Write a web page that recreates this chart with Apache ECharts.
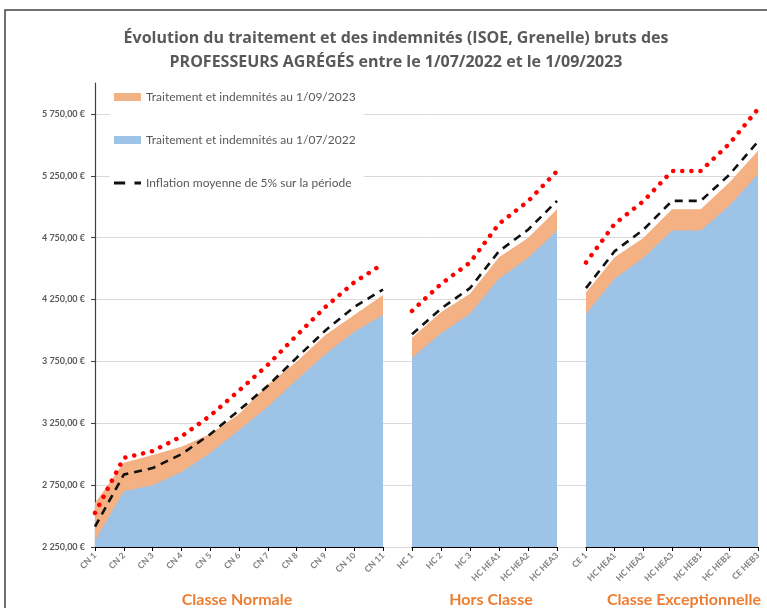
<!DOCTYPE html>
<html>
<head>
<meta charset="utf-8">
<script src="https://cdn.jsdelivr.net/npm/echarts@6/dist/echarts.min.js"></script>
<style>
  html, body { margin: 0; padding: 0; background: #fff; }
  #chart { width: 767px; height: 608px; }
</style>
</head>
<body>
<div id="chart"></div>
<script>
// categories of each panel
const catNormale = ['CN 1', 'CN 2', 'CN 3', 'CN 4', 'CN 5', 'CN 6', 'CN 7', 'CN 8', 'CN 9', 'CN 10', 'CN 11']
const catHors = ['HC 1', 'HC 2', 'HC 3', 'HC HEA1', 'HC HEA2', 'HC HEA3']
const catExcep = ['CE 1', 'HC HEA1', 'HC HEA2', 'HC HEA3', 'HC HEB1', 'HC HEB2', 'CE HEB3']

// traitement + indemnités au 1/07/2022
const jul2022Normale = [2300, 2700, 2750, 2857, 3010, 3195, 3384, 3599, 3809, 3990, 4125]
const jul2022Hors = [3780, 3978, 4135, 4420, 4585, 4807]
const jul2022Excep = [4135, 4420, 4585, 4807, 4807, 5008, 5264]

// traitement + indemnités au 1/09/2023
const sep2023Normale = [2605, 2930, 2993, 3060, 3163, 3325, 3562, 3747, 3963, 4125, 4286]
const sep2023Hors = [3941, 4148, 4296, 4591, 4748, 4980]
const sep2023Excep = [4306, 4591, 4748, 4980, 4980, 5196, 5452]

// inflation moyenne 5 %
const infl5Normale = [2415, 2835, 2888, 3000, 3161, 3355, 3553, 3779, 4000, 4190, 4331]
const infl5Hors = [3969, 4177, 4342, 4641, 4814, 5047]
const infl5Excep = [4342, 4641, 4814, 5047, 5047, 5258, 5527]

// courbe pointillée rouge
const redNormale = [2525, 2970, 3025, 3143, 3311, 3514, 3722, 3959, 4190, 4389, 4538]
const redHors = [4158, 4376, 4549, 4862, 5044, 5288]
const redExcep = [4549, 4862, 5044, 5288, 5288, 5509, 5790]

const panelTitles = ['Classe Normale', 'Hors Classe', 'Classe Exceptionnelle']

const yMin = 2250
const yMax = 6000
const yStep = 500

const NAME_SEP = 'Traitement et indemnités au 1/09/2023'
const NAME_JUL = 'Traitement et indemnités au 1/07/2022'
const NAME_INF = 'Inflation moyenne de 5% sur la période'

const BLUE = '#9DC3E6'
const ORANGE = '#F4B183'
const GREY = '#595959'
const FONT = 'Lato, "Open Sans", sans-serif'

const chart = echarts.init(document.getElementById('chart'))

function euro(v) {
  const s = String(Math.round(v)).replace(/\B(?=(\d{3})+(?!\d))/g, ' ')
  return s + ',00 €'
}

const panels = [
  { cats: catNormale, jul: jul2022Normale, sep: sep2023Normale, inf: infl5Normale, red: redNormale, left: 95, width: 288 },
  { cats: catHors, jul: jul2022Hors, sep: sep2023Hors, inf: infl5Hors, red: redHors, left: 412, width: 145 },
  { cats: catExcep, jul: jul2022Excep, sep: sep2023Excep, inf: infl5Excep, red: redExcep, left: 586, width: 172 }
]

const gridTop = 83
const gridHeight = 464

const grids = [{ left: 95, width: 663, top: gridTop, height: gridHeight }]
const xAxes = [{ gridIndex: 0, type: 'category', show: false, data: ['a'] }]
const yAxes = [{
  gridIndex: 0, type: 'value', min: yMin, max: yMax, interval: yStep,
  axisLine: { show: false }, axisTick: { show: false }, axisLabel: { show: false },
  splitLine: { show: true, showMaxLine: false, lineStyle: { color: '#D9D9D9', width: 1 } }
}]
const series = []

panels.forEach((p, i) => {
  const gi = i + 1
  grids.push({ left: p.left, width: p.width, top: gridTop, height: gridHeight })
  xAxes.push({
    gridIndex: gi,
    type: 'category',
    boundaryGap: false,
    data: p.cats,
    axisLine: { lineStyle: { color: '#000', width: 1.2 } },
    axisTick: { show: true, length: 4, alignWithLabel: true, lineStyle: { color: '#000' } },
    axisLabel: {
      interval: 0, rotate: 45, margin: 7,
      fontSize: 8.5, fontWeight: 'bold', color: '#7F7F7F', fontFamily: FONT
    }
  })
  yAxes.push({
    gridIndex: gi, type: 'value', min: yMin, max: yMax, interval: yStep,
    show: i === 0,
    axisLine: { show: true, lineStyle: { color: '#404040', width: 1.2 } },
    axisTick: { show: true, length: 4, lineStyle: { color: '#404040' } },
    axisLabel: {
      showMaxLabel: false, margin: 10,
      fontSize: 9, fontWeight: 'bold', color: GREY, fontFamily: FONT,
      formatter: v => (v === yMax ? '' : euro(v))
    },
    splitLine: { show: false }
  })
  series.push({
    name: NAME_SEP, type: 'line', xAxisIndex: gi, yAxisIndex: gi,
    data: p.sep, showSymbol: false, symbol: 'none', z: 1,
    itemStyle: { color: ORANGE },
    lineStyle: { width: 0 },
    areaStyle: { color: ORANGE, opacity: 1, origin: 'start' }
  })
  series.push({
    name: NAME_JUL, type: 'line', xAxisIndex: gi, yAxisIndex: gi,
    data: p.jul, showSymbol: false, symbol: 'none', z: 2,
    itemStyle: { color: BLUE },
    lineStyle: { width: 0 },
    areaStyle: { color: BLUE, opacity: 1, origin: 'start' }
  })
  series.push({
    name: NAME_INF, type: 'line', xAxisIndex: gi, yAxisIndex: gi,
    data: p.inf, showSymbol: false, symbol: 'none', z: 3,
    itemStyle: { color: '#111' },
    lineStyle: { color: '#111', width: 2.6, type: [8, 6] }
  })
  series.push({
    name: 'Inflation 10%', type: 'line', xAxisIndex: gi, yAxisIndex: gi,
    data: p.red, showSymbol: false, symbol: 'none', z: 4,
    itemStyle: { color: '#FF0000' },
    lineStyle: { color: '#FF0000', width: 4.5, type: [0.1, 9], cap: 'round' }
  })
})

const panelLabelX = [237, 491, 684]

const option = {
  backgroundColor: '#fff',
  animation: false,
  title: {
    text: 'Évolution du traitement et des indemnités (ISOE, Grenelle) bruts des\nPROFESSEURS AGRÉGÉS entre le 1/07/2022 et le 1/09/2023',
    left: 391,
    textAlign: 'center',
    top: 21,
    textStyle: { fontFamily: '"Open Sans", sans-serif', fontSize: 16, fontWeight: 'bold', color: GREY, lineHeight: 24 }
  },
  legend: {
    orient: 'vertical',
    left: 110,
    top: 85,
    padding: [6, 8, 6, 4],
    backgroundColor: '#fff',
    itemWidth: 27,
    itemHeight: 8,
    itemGap: 31,
    textStyle: { fontFamily: FONT, fontSize: 12, color: GREY },
    data: [
      { name: NAME_SEP, icon: 'rect', itemStyle: { color: ORANGE } },
      { name: NAME_JUL, icon: 'rect', itemStyle: { color: BLUE } },
      { name: NAME_INF, icon: 'path://M0,0H12V3H0Z M22,0H29V3H22Z', itemStyle: { color: '#111' } }
    ]
  },
  grid: grids,
  xAxis: xAxes,
  yAxis: yAxes,
  series: series,
  graphic: [
    {
      type: 'rect', silent: true, z: -1,
      shape: { x: 5, y: 10, width: 900, height: 800 },
      style: { fill: 'none', stroke: '#404040', lineWidth: 1.5 }
    }
  ].concat(panelTitles.map((t, i) => ({
    type: 'text', silent: true,
    x: panelLabelX[i], y: 600,
    style: {
      text: t, align: 'center', verticalAlign: 'middle',
      fontFamily: FONT, fontSize: 16, fontWeight: 'bold', fill: '#ED7D31'
    }
  })))
}

chart.setOption(option)
</script>
</body>
</html>
